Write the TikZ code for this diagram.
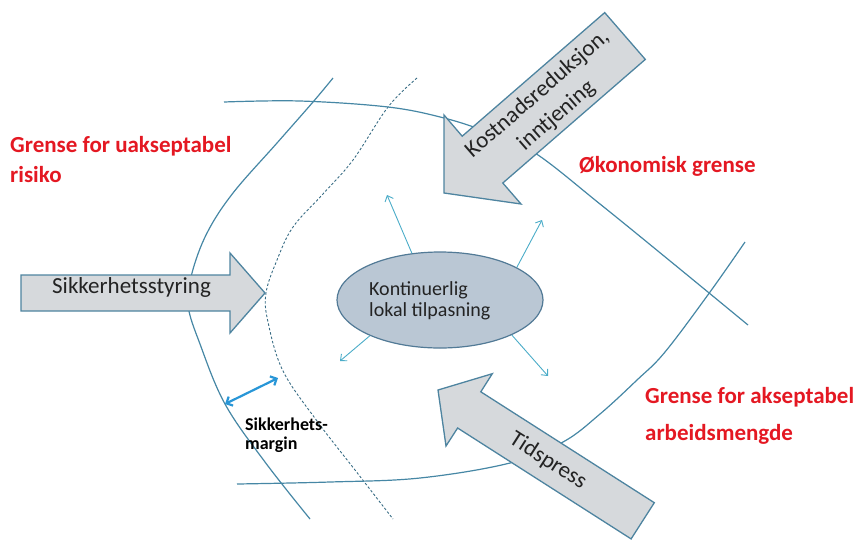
\documentclass[tikz,border=0pt]{standalone}
\usepackage{fontspec}
\setmainfont{Carlito}
\usetikzlibrary{arrows.meta,shapes.geometric}
\definecolor{linecol}{RGB}{70,135,165}
\definecolor{arrfill}{RGB}{214,217,220}
\definecolor{arrdraw}{RGB}{78,132,160}
\definecolor{ellfill}{RGB}{186,199,212}
\definecolor{elldraw}{RGB}{82,122,150}
\definecolor{smallarr}{RGB}{75,172,200}
\definecolor{dblarr}{RGB}{40,150,215}
\definecolor{redtxt}{RGB}{228,24,34}
\definecolor{darktxt}{RGB}{35,35,35}
\begin{document}
\begin{tikzpicture}[x=1pt,y=-1pt,
  bound/.style={draw=linecol,line width=1.2pt},
  margindash/.style={draw=linecol!80!black,line width=0.9pt,dash pattern=on 2.5pt off 2pt},
  blockarrow/.style={draw=arrdraw,fill=arrfill,line width=1.3pt,line join=miter},
  arrtext/.style={text=darktxt,font=\fontsize{23}{29}\selectfont,inner sep=0pt,align=center},
  redlabel/.style={text=redtxt,font=\bfseries\fontsize{23}{30}\selectfont,inner sep=0pt,align=left},
  spread/.style={draw=smallarr,line width=0.9pt,-{Straight Barb[length=5pt,width=9pt]}},
  marginarrow/.style={draw=dblarr,line width=2.2pt,{Straight Barb[length=5pt,width=10pt]}-{Straight Barb[length=5pt,width=10pt]}}]
\useasboundingbox (0,0) rectangle (864,542);

% boundaries
\draw[bound] plot[smooth,tension=0.6] coordinates {(333,78) (313,102) (277,143) (233,193) (207,233) (192,273) (188,305) (200,344) (225,404) (265,462) (310,519)};
\draw[margindash] plot[smooth,tension=0.6] coordinates {(417,78) (388,107) (353,160) (322,195) (293,227) (277,260) (266,293) (268,322) (283,371) (317,421) (355,470) (393,519)};
\draw[bound] plot[smooth,tension=0.6] coordinates {(224,102) (300,101) (388,107) (444,118) (490,133) (535,153) (600,204) (675,265) (748,325)};
\draw[bound] plot[smooth,tension=0.6] coordinates {(237,484) (330,482) (420,478) (510,463) (563,442) (600,414) (637,380) (665,352) (710,292) (745,242)};

% block arrows
\draw[blockarrow] (21,275) -- (230,275) -- (230,253) -- (265,293) -- (230,333) -- (230,311) -- (21,311) -- cycle;
\node[arrtext,anchor=base] (ss) at (131.5,293) {Sikkerhetsstyring};

\draw[blockarrow] (604.7,12.6) -- (645.3,59.4) -- (502.8,183) -- (521,204) -- (444,193) -- (444,115) -- (462.2,136.2) -- cycle;
\node[arrtext,rotate=41] (kr) at (547,105) {Kostnadsreduksjon,\\inntjening};

\draw[blockarrow] (654.3,502.7) -- (631.1,538.9) -- (457.6,428) -- (446,446) -- (438,390) -- (492.3,373.7) -- (480.8,391.8) -- cycle;
\node[arrtext,rotate=-32.6] (tp) at (548,461) {Tidspress};

% core ellipse
\node[ellipse,draw=elldraw,fill=ellfill,line width=1.2pt,minimum width=206pt,minimum height=96pt,inner sep=0pt] (core) at (440,300) {};
\node[text=darktxt,font=\fontsize{20}{21}\selectfont,align=left,anchor=base west,inner sep=0pt] (coretxt) at (369,316) {Kontinuerlig\\lokal tilpasning};

\coordinate (nw) at (387,195);
\coordinate (ne) at (542,220);
\coordinate (sw) at (340,361);
\coordinate (se) at (548,376);
\draw[spread] (core.121) -- (nw);
\draw[spread] (core.23) -- (ne);
\draw[spread] (core.-153) -- (sw);
\draw[spread] (core.-26) -- (se);

% safety margin
\coordinate (mA) at (225,404);
\coordinate (mB) at (278,378);
\draw[marginarrow] (mA) -- (mB);
\node[text=black,font=\bfseries\fontsize{18}{19}\selectfont,align=left,anchor=base west,inner sep=0pt] (sm) at (245,449) {Sikkerhets-\\margin};

% red labels
\node[redlabel,anchor=base west] (l1) at (10,182) {Grense for uakseptabel\\risiko};
\node[redlabel,anchor=base west] (l2) at (579,172) {Økonomisk grense};
\node[redlabel,anchor=base west,font=\bfseries\fontsize{23}{37}\selectfont] (l3) at (645,440) {Grense for akseptabel\\arbeidsmengde};
\end{tikzpicture}
\end{document}
